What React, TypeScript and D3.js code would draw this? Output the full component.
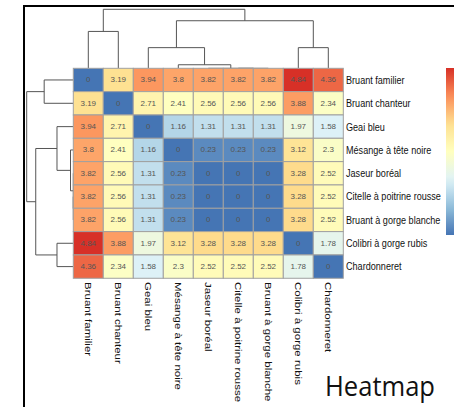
import React from "react";
import * as d3 from "d3";

const species = [
  "Bruant familier",
  "Bruant chanteur",
  "Geai bleu",
  "Mésange à tête noire",
  "Jaseur boréal",
  "Citelle à poitrine rousse",
  "Bruant à gorge blanche",
  "Colibri à gorge rubis",
  "Chardonneret",
];

const distances = [
  [0, 3.19, 3.94, 3.8, 3.82, 3.82, 3.82, 4.84, 4.36],
  [3.19, 0, 2.71, 2.41, 2.56, 2.56, 2.56, 3.88, 2.34],
  [3.94, 2.71, 0, 1.16, 1.31, 1.31, 1.31, 1.97, 1.58],
  [3.8, 2.41, 1.16, 0, 0.23, 0.23, 0.23, 3.12, 2.3],
  [3.82, 2.56, 1.31, 0.23, 0, 0, 0, 3.28, 2.52],
  [3.82, 2.56, 1.31, 0.23, 0, 0, 0, 3.28, 2.52],
  [3.82, 2.56, 1.31, 0.23, 0, 0, 0, 3.28, 2.52],
  [4.84, 3.88, 1.97, 3.12, 3.28, 3.28, 3.28, 0, 1.78],
  [4.36, 2.34, 1.58, 2.3, 2.52, 2.52, 2.52, 1.78, 0],
];

// dendrogram merges (leaf ids 0-8, clusters 9+), relative heights
const mergeLeft = [5, 4, 3, 2, 7, 0, 12, 14];
const mergeRight = [6, 9, 10, 11, 8, 1, 13, 15];
const mergeHeight = [0, 0, 0.06, 0.35, 0.35, 0.625, 0.806, 1];

const HM_LEFT = 73.3;
const HM_TOP = 68.3;
const CELL_W = 30;
const CELL_H = 23.33;

export default function App() {
  const n = species.length;
  const x = d3.scaleBand<number>().domain(d3.range(n)).range([HM_LEFT, HM_LEFT + n * CELL_W]);
  const y = d3.scaleBand<number>().domain(d3.range(n)).range([HM_TOP, HM_TOP + n * CELL_H]);
  const xPos = d3.scaleLinear().domain([-0.5, n - 0.5]).range([HM_LEFT, HM_LEFT + n * CELL_W]);
  const yPos = d3.scaleLinear().domain([-0.5, n - 0.5]).range([HM_TOP, HM_TOP + n * CELL_H]);
  const maxV = d3.max(distances.flat()) as number;
  const scheme = [...d3.schemeRdYlBu[7]].reverse();
  const color = d3
    .scaleLinear<string>()
    .domain(scheme.map((_, i) => (i / (scheme.length - 1)) * maxV))
    .range(scheme)
    .interpolate(d3.interpolateRgb);

  // dendrogram node positions
  const pos: number[] = d3.range(n);
  const hgt: number[] = d3.range(n).map(() => 0);
  mergeLeft.forEach((a, i) => {
    const b = mergeRight[i];
    pos.push((pos[a] + pos[b]) / 2);
    hgt.push(mergeHeight[i]);
  });

  const topH = d3.scaleLinear().domain([0, 1]).range([HM_TOP, 9.3]);
  const leftH = d3.scaleLinear().domain([0, 1]).range([HM_LEFT, 26.7]);

  const topPaths = mergeLeft.map((a, i) => {
    const b = mergeRight[i];
    const h = mergeHeight[i];
    return `M${xPos(pos[a])},${topH(hgt[a])}V${topH(h)}H${xPos(pos[b])}V${topH(hgt[b])}`;
  });
  const leftPaths = mergeLeft.map((a, i) => {
    const b = mergeRight[i];
    const h = mergeHeight[i];
    return `M${leftH(hgt[a])},${yPos(pos[a])}H${leftH(h)}V${yPos(pos[b])}H${leftH(hgt[b])}`;
  });

  const gradStops = d3.range(0, 1.0001, 0.05).map((t) => ({ t, c: color(maxV * (1 - t)) }));

  return (
    <svg
      width={454}
      height={407}
      style={{ position: "absolute", left: 0, top: 0, background: "#fff" }}
      fontFamily="'Liberation Sans', Arial, sans-serif"
    >
      <defs>
        <linearGradient id="cbar" x1="0" y1="0" x2="0" y2="1">
          {gradStops.map((s, i) => (
            <stop key={i} offset={s.t} stopColor={s.c} />
          ))}
        </linearGradient>
      </defs>
      <rect x={0} y={0} width={454} height={407} fill="#fff" />
      {/* frame */}
      <path d="M24,407V6H454" fill="none" stroke="#000" strokeWidth={2} />

      {/* dendrograms */}
      <g fill="none" stroke="#555" strokeWidth={1}>
        {topPaths.map((d, i) => (
          <path key={"t" + i} d={d} />
        ))}
        {leftPaths.map((d, i) => (
          <path key={"l" + i} d={d} />
        ))}
      </g>

      {/* cells */}
      <g>
        {distances.map((row, r) =>
          row.map((v, c) => (
            <g key={r + "-" + c}>
              <rect
                x={x(c)}
                y={y(r)}
                width={x.bandwidth()}
                height={y.bandwidth()}
                fill={color(v)}
                stroke="#a0a0a0"
                strokeWidth={1}
              />
              <text
                x={(x(c) as number) + x.bandwidth() / 2}
                y={(y(r) as number) + y.bandwidth() / 2}
                textAnchor="middle"
                dominantBaseline="central"
                fontSize={8}
                fill="#555"
              >
                {String(v)}
              </text>
            </g>
          ))
        )}
      </g>

      {/* row labels */}
      {species.map((s, i) => (
        <text
          key={"r" + s}
          transform={`translate(346,${(y(i) as number) + y.bandwidth() / 2}) scale(0.79,1)`}
          dominantBaseline="central"
          fontSize={11.5}
          fill="#111"
        >
          {s}
        </text>
      ))}

      {/* column labels */}
      {species.map((s, i) => (
        <text
          key={"c" + s}
          transform={`translate(${(x(i) as number) + x.bandwidth() / 2},282) rotate(90) scale(1,0.79)`}
          dominantBaseline="central"
          fontSize={11.5}
          fill="#111"
        >
          {s}
        </text>
      ))}

      {/* color bar */}
      <rect x={446} y={68} width={20} height={167} fill="url(#cbar)" />

      <text
        x={325}
        y={396}
        fontSize={28}
        fontFamily="'Open Sans', 'Liberation Sans', sans-serif"
        textLength={110}
        lengthAdjust="spacingAndGlyphs"
        fill="#111"
      >
        Heatmap
      </text>
    </svg>
  );
}
